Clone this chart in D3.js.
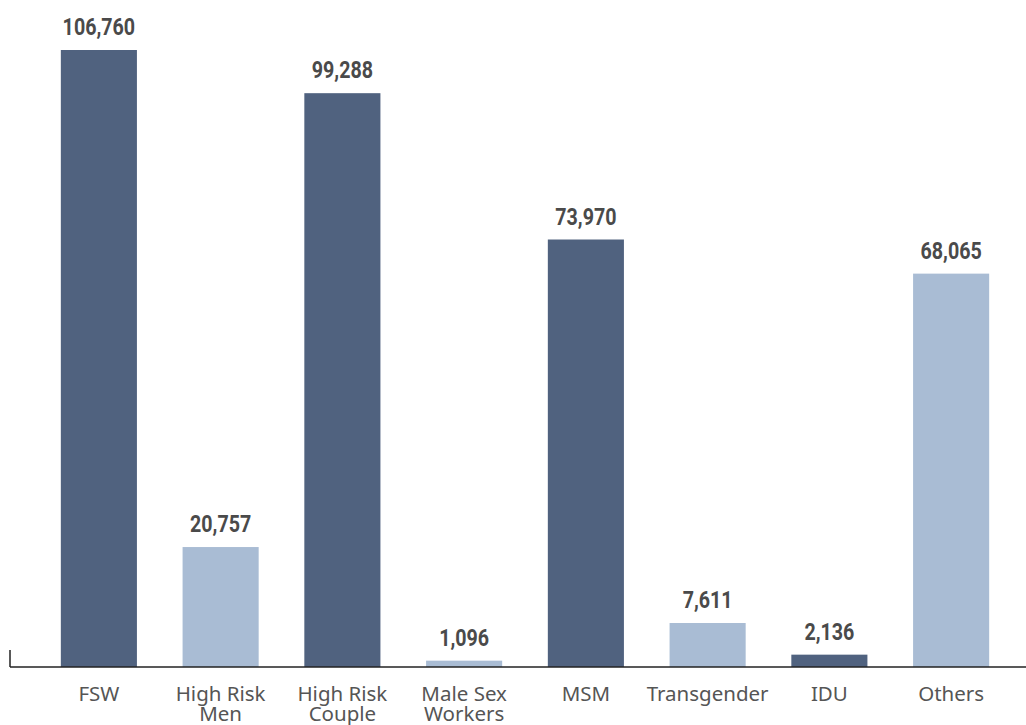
<!DOCTYPE html>
<html><head><meta charset="utf-8">
<script src="https://cdn.jsdelivr.net/npm/d3@7"></script>
<style>
html,body{margin:0;padding:0;background:#fff;}
svg{display:block;}
</style></head>
<body>
<svg id="chart" width="1026" height="725"></svg>
<script>
const categories = ["FSW", "High Risk Men", "High Risk Couple", "Male Sex Workers", "MSM", "Transgender", "IDU", "Others"];
const values = [106760, 20757, 99288, 1096, 73970, 7611, 2136, 68065];
const labelLines = [["FSW"], ["High Risk", "Men"], ["High Risk", "Couple"], ["Male Sex", "Workers"], ["MSM"], ["Transgender"], ["IDU"], ["Others"]];

const svg = d3.select("#chart");
const baseY = 667;
const x = d3.scaleBand().domain(categories).range([38, 1012]).paddingInner(0.375).paddingOuter(0.1875);
const y = d3.scaleLinear().domain([0, 106760]).range([baseY, 50]);
const colors = ["#50627f", "#a9bcd4"];

svg.selectAll("rect.bar").data(values).join("rect")
  .attr("class", "bar")
  .attr("x", (d, i) => x(categories[i]))
  .attr("width", x.bandwidth())
  .attr("y", d => y(d))
  .attr("height", d => baseY - y(d))
  .attr("fill", (d, i) => colors[i % 2]);

const fmt = d3.format(",");
svg.selectAll("g.vlab").data(values).join("g")
  .attr("class", "vlab")
  .attr("transform", (d, i) => `translate(${x(categories[i]) + x.bandwidth() / 2},${y(d) - 15}) scale(0.82,1)`)
  .append("text")
  .attr("text-anchor", "middle")
  .attr("font-family", "Roboto, sans-serif")
  .attr("font-weight", "bold")
  .attr("font-size", 24)
  .attr("fill", "#4a4a4a")
  .text(d => fmt(d));

// axis line
const axis = d3.axisBottom(x).tickSize(0).tickFormat("");
const ag = svg.append("g").attr("transform", `translate(0,${baseY})`).call(axis);
ag.select(".domain").remove();
svg.append("line").attr("x1", 10).attr("x2", 1026).attr("y1", baseY).attr("y2", baseY)
  .attr("stroke", "#222").attr("stroke-width", 1.5);
svg.append("line").attr("x1", 10).attr("x2", 10).attr("y1", 650).attr("y2", baseY)
  .attr("stroke", "#222").attr("stroke-width", 1.5);

const cl = svg.selectAll("text.cat").data(categories).join("text")
  .attr("class", "cat")
  .attr("x", d => x(d) + x.bandwidth() / 2)
  .attr("y", 701)
  .attr("text-anchor", "middle")
  .attr("font-family", "'Noto Sans', sans-serif")
  .attr("font-size", 20.5)
  .attr("fill", "#555");
cl.each(function(d, i) {
  const t = d3.select(this);
  labelLines[i].forEach((ln, j) => {
    t.append("tspan").attr("x", x(d) + x.bandwidth() / 2).attr("dy", j === 0 ? 0 : 20).text(ln);
  });
});
</script>
</body></html>
